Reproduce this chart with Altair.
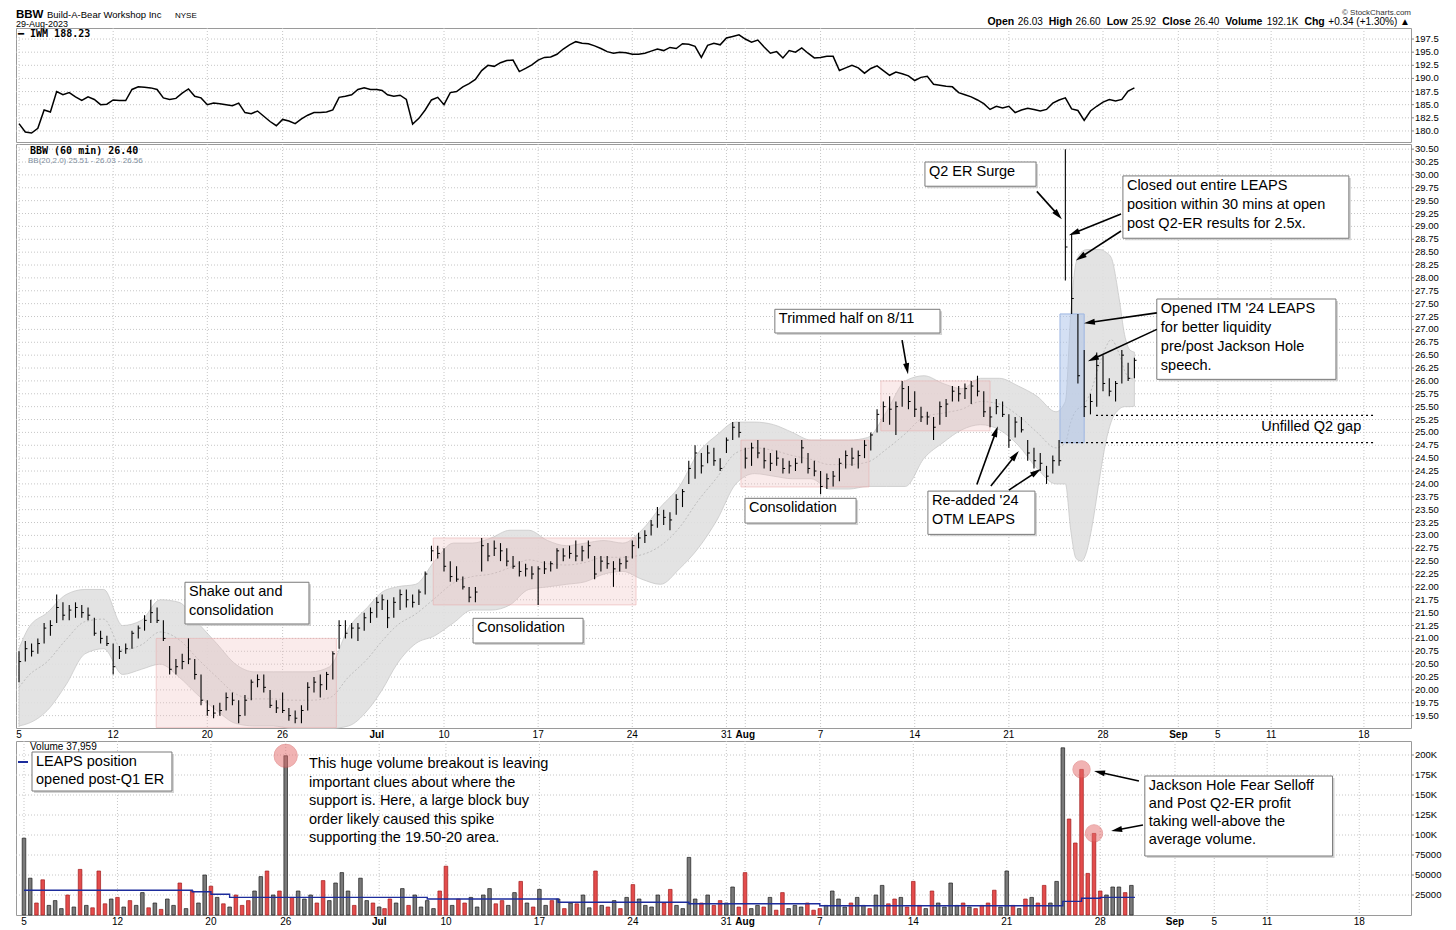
import math
import altair as alt
import pandas as pd

# ---------------------------------------------------------------- data ----
days = ["Jun 5", "Jun 6", "Jun 7", "Jun 8", "Jun 9", "Jun 12", "Jun 13", "Jun 14", "Jun 15", "Jun 16",
        "Jun 20", "Jun 21", "Jun 22", "Jun 23", "Jun 26", "Jun 27", "Jun 28", "Jun 29", "Jun 30", "Jul 3",
        "Jul 5", "Jul 6", "Jul 7", "Jul 10", "Jul 11", "Jul 12", "Jul 13", "Jul 14", "Jul 17", "Jul 18",
        "Jul 19", "Jul 20", "Jul 21", "Jul 24", "Jul 25", "Jul 26", "Jul 27", "Jul 28", "Jul 31", "Aug 1",
        "Aug 2", "Aug 3", "Aug 4", "Aug 7", "Aug 8", "Aug 9", "Aug 10", "Aug 11", "Aug 14", "Aug 15",
        "Aug 16", "Aug 17", "Aug 18", "Aug 21", "Aug 22", "Aug 23", "Aug 24", "Aug 25", "Aug 28", "Aug 29"]
half_days = ["Jul 3"]

bar_low = [
    [20.15, 20.55, 20.65], [20.7, 20.9, 21.05], [21.3, 21.35, 21.35], [21.4, 21.4, 21.35], [21.05, 20.9, 20.85],
    [20.3, 20.6, 20.7], [20.8, 21.0, 21.15], [21.3, 21.3, 20.95], [20.3, 20.3, 20.4], [20.5, 20.2, 19.7],
    [19.5, 19.45, 19.5], [19.6, 19.7, 19.35], [19.5, 19.8, 20.05], [19.95, 19.65, 19.55], [19.55, 19.4, 19.35],
    [19.35, 19.6, 19.95], [19.85, 20.0, 20.2], [20.8, 21.0, 21.0], [20.95, 21.15, 21.3], [21.4, 21.55],
    [21.2, 21.4, 21.55], [21.6, 21.6, 21.65], [21.85, 22.5, 22.55], [22.3, 22.1, 22.1], [21.95, 21.7, 21.7],
    [22.3, 22.5, 22.6], [22.5, 22.4, 22.35], [22.2, 22.2, 22.15], [21.65, 22.25, 22.3], [22.35, 22.5, 22.55],
    [22.5, 22.5, 22.55], [22.15, 22.3, 22.35], [22.0, 22.3, 22.35], [22.55, 22.75, 22.85], [23.0, 23.15, 23.2],
    [23.1, 23.4, 23.55], [24.0, 24.1, 24.2], [24.4, 24.35, 24.25], [24.6, 24.85, 24.9], [24.3, 24.35, 24.5],
    [24.3, 24.25, 24.35], [24.2, 24.2, 24.25], [24.4, 24.2, 24.15], [23.8, 23.9, 23.95], [24.05, 24.3, 24.35],
    [24.3, 24.5, 24.65], [25.0, 25.2, 25.15], [24.95, 25.5, 25.45], [25.3, 25.2, 25.15], [24.85, 25.15, 25.3],
    [25.6, 25.6, 25.65], [25.55, 25.7, 25.3], [25.1, 25.35, 25.3], [24.7, 24.9, 25.0], [24.45, 24.3, 24.25],
    [24.0, 24.2, 24.35], [27.95, 27.3, 25.95], [25.3, 25.35, 25.5], [25.8, 25.7, 25.6], [25.95, 26.0, 26.05]]
bar_high = [
    [20.75, 20.95, 20.9], [21.0, 21.3, 21.35], [21.85, 21.7, 21.65], [21.7, 21.65, 21.6], [21.4, 21.15, 21.05],
    [20.9, 20.85, 20.9], [21.15, 21.25, 21.45], [21.75, 21.6, 21.35], [20.85, 20.6, 20.7], [21.0, 20.6, 20.3],
    [19.8, 19.7, 19.75], [19.95, 19.95, 19.8], [19.9, 20.2, 20.3], [20.3, 20.0, 19.8], [19.95, 19.65, 19.6],
    [19.7, 20.15, 20.25], [20.3, 20.35, 20.75], [21.35, 21.35, 21.3], [21.3, 21.5, 21.6], [21.8, 21.85],
    [21.75, 21.8, 21.95], [21.95, 21.85, 21.95], [22.3, 22.8, 22.8], [22.75, 22.5, 22.4], [22.2, 22.0, 22.0],
    [22.95, 22.85, 22.9], [22.85, 22.75, 22.6], [22.5, 22.45, 22.4], [22.4, 22.5, 22.5], [22.75, 22.75, 22.8],
    [22.9, 22.8, 22.9], [22.6, 22.6, 22.6], [22.5, 22.55, 22.6], [22.9, 23.05, 23.1], [23.3, 23.55, 23.5],
    [23.45, 23.8, 23.9], [24.45, 24.75, 24.6], [24.75, 24.7, 24.5], [24.9, 25.2, 25.2], [24.7, 24.8, 24.85],
    [24.7, 24.6, 24.65], [24.5, 24.45, 24.5], [24.85, 24.6, 24.45], [24.25, 24.2, 24.25], [24.5, 24.65, 24.7],
    [24.65, 24.85, 25.0], [25.45, 25.6, 25.7], [25.6, 26.0, 25.9], [25.8, 25.5, 25.4], [25.3, 25.6, 25.65],
    [25.9, 25.9, 25.95], [26.0, 26.1, 25.8], [25.5, 25.65, 25.6], [25.35, 25.3, 25.3], [24.85, 24.7, 24.6],
    [24.35, 24.55, 24.85], [30.5, 28.85, 27.3], [26.6, 25.75, 26.55], [26.5, 26.05, 26.0], [26.6, 26.35, 26.45]]
bar_close = [
    [20.55, 20.8, 20.75], [20.9, 21.2, 21.25], [21.6, 21.45, 21.55], [21.6, 21.5, 21.45], [21.1, 21.0, 20.9],
    [20.45, 20.75, 20.8], [21.1, 21.2, 21.35], [21.5, 21.35, 21.0], [20.4, 20.45, 20.55], [20.6, 20.3, 19.8],
    [19.6, 19.55, 19.6], [19.85, 19.8, 19.5], [19.8, 20.15, 20.2], [20.05, 19.7, 19.65], [19.6, 19.5, 19.45],
    [19.6, 20.05, 20.15], [20.1, 20.3, 20.7], [21.25, 21.1, 21.2], [21.2, 21.4, 21.5], [21.7, 21.75],
    [21.4, 21.7, 21.85], [21.75, 21.7, 21.9], [22.25, 22.7, 22.65], [22.4, 22.2, 22.15], [22.0, 21.8, 21.9],
    [22.8, 22.6, 22.75], [22.7, 22.5, 22.4], [22.3, 22.35, 22.25], [22.35, 22.35, 22.45], [22.7, 22.6, 22.65],
    [22.6, 22.7, 22.8], [22.25, 22.5, 22.45], [22.35, 22.45, 22.5], [22.8, 22.95, 23.0], [23.2, 23.4, 23.35],
    [23.3, 23.7, 23.85], [24.3, 24.6, 24.35], [24.6, 24.45, 24.3], [24.85, 25.1, 25.0], [24.5, 24.7, 24.6],
    [24.45, 24.4, 24.5], [24.3, 24.35, 24.4], [24.7, 24.3, 24.25], [23.95, 24.1, 24.15], [24.4, 24.55, 24.5],
    [24.55, 24.75, 24.95], [25.35, 25.5, 25.45], [25.5, 25.85, 25.6], [25.45, 25.3, 25.3], [25.1, 25.5, 25.55],
    [25.8, 25.75, 25.85], [25.9, 25.8, 25.4], [25.3, 25.5, 25.35], [24.85, 25.2, 25.05], [24.6, 24.45, 24.4],
    [24.15, 24.45, 24.45], [28.6, 27.6, 26.1], [25.5, 25.6, 26.3], [25.95, 25.8, 25.95], [26.5, 26.05, 26.4]]

iwm_close = [
    [181.4, 179.8, 179.6], [180.5, 184.0, 183.6], [187.5, 186.9, 187.3], [186.5, 185.8, 186.5], [186.0, 185.0, 185.1],
    [185.9, 185.8, 185.8], [187.9, 188.4, 188.3], [188.2, 187.9, 186.3], [186.0, 186.2, 187.2], [188.0, 186.6, 186.3],
    [185.0, 185.3, 185.2], [185.0, 184.8, 185.3], [183.5, 183.3, 183.8], [182.8, 181.8, 181.0], [182.2, 181.9, 181.4],
    [182.3, 183.0, 183.5], [183.5, 183.6, 184.0], [186.4, 186.6, 186.9], [187.9, 188.2, 187.9], [187.9, 187.7],
    [186.9, 186.6, 186.8], [186.0, 181.3, 182.4], [184.0, 185.9, 186.4], [185.0, 187.3, 187.5], [188.4, 189.0, 189.8],
    [191.5, 192.5, 192.3], [193.0, 193.4, 193.5], [191.3, 191.9, 192.6], [193.5, 194.0, 194.1], [194.6, 195.6, 196.4],
    [197.0, 196.7, 196.6], [196.2, 195.7, 195.1], [194.8, 195.0, 194.9], [194.6, 194.6, 194.8], [195.2, 195.6, 195.3],
    [195.9, 195.7, 196.6], [196.5, 196.1, 194.0], [196.3, 196.7, 196.4], [197.7, 198.0, 198.3], [197.5, 196.9, 197.3],
    [196.0, 194.8, 195.1], [193.9, 195.3, 195.0], [195.8, 194.8, 193.9], [194.0, 194.2, 194.2], [191.5, 192.0, 192.5],
    [192.0, 191.0, 191.9], [192.4, 191.5, 190.6], [191.2, 190.9, 190.5], [189.6, 190.2, 190.4], [188.9, 188.7, 188.5],
    [188.4, 187.3, 186.9], [186.5, 185.9, 185.2], [184.1, 184.7, 184.4], [184.7, 183.5, 184.0], [184.3, 184.1, 183.8],
    [184.1, 185.3, 185.9], [186.3, 184.2, 183.9], [182.0, 183.8, 184.7], [185.5, 186.0, 185.7], [186.0, 187.6, 188.2]]

vol_k = [
    [96, 46, 15], [44, 12, 18], [8, 25, 10], [57, 12, 9], [55, 14, 20], [22, 10, 18], [12, 28, 9], [15, 7, 20],
    [12, 40, 8], [30, 15, 50], [36, 22, 14], [10, 25, 12], [18, 30, 48], [55, 25, 30], [199, 22, 30], [20, 25, 15],
    [43, 18, 40], [53, 30, 12], [46, 18, 15], [10, 8], [20, 15, 33], [12, 25, 10], [18, 8, 30], [61, 12, 20],
    [15, 22, 10], [25, 33, 14], [18, 12, 28], [42, 15, 10], [32, 12, 18], [20, 8, 15], [14, 25, 9], [55, 12, 10],
    [18, 8, 22], [38, 20, 12], [10, 25, 15], [32, 12, 8], [72, 20, 15], [25, 12, 18], [15, 35, 10], [53, 8, 12],
    [10, 22, 6], [28, 8, 12], [10, 15, 6], [8, 12, 30], [20, 10, 15], [22, 12, 8], [25, 37, 14], [20, 22, 10],
    [42, 12, 8], [30, 15, 10], [40, 12, 15], [10, 8, 12], [15, 31, 10], [55, 12, 8], [20, 22, 15], [37, 15, 42],
    [209, 120, 90], [182, 52, 102], [30, 25, 35], [35, 28, 37]]
vol_dir = ["kkr", "rkk", "krk", "rkr", "rrk", "rkr", "kkr", "krk", "krk", "rkk",
           "rkr", "krr", "rkk", "rkr", "krk", "kkr", "rkk", "kkr", "kkr", "kr",
           "rkk", "rkk", "kkr", "rkr", "rkk", "kkr", "rkk", "rkr", "kkr", "krk",
           "rkk", "rkr", "krk", "rkk", "kkr", "rkk", "kkr", "krr", "kkr", "rkk",
           "rkr", "rkk", "krr", "rkk", "kkr", "kkr", "kkr", "rkr", "rrk", "rkk",
           "kkr", "krr", "rrk", "krk", "rkr", "rkk", "krr", "rrr", "rkk", "krk"]
vol_ma_k = [31, 31, 31, 31, 31, 31, 31, 31, 31, 29,
            26, 22, 22, 22, 22, 22, 22, 22, 22, 22,
            22, 22, 20, 20, 20, 20, 20, 20, 20, 16,
            16, 16, 16, 16, 16, 16, 14, 14, 14, 14,
            14, 14, 14, 11.5, 11.5, 11.5, 11.5, 11.5, 11.5, 11.5,
            11.5, 11.5, 11.5, 11.5, 11.5, 11.5, 17, 21, 22, 22]

# Bollinger band (20, 2.0): day number, hour slot, upper, lower
bb_day = [0, 0, 1, 2, 3, 4, 5, 6, 7, 8, 9, 10, 11, 12, 13, 14, 15, 16, 17, 18, 19,
          20, 21, 22, 23, 24, 25, 26, 27, 28, 29, 30, 31, 32, 33, 34, 35, 36, 37, 38, 39,
          40, 41, 42, 43, 44, 45, 46, 47, 48, 49, 50, 51, 52, 53, 54, 55,
          56, 56, 56, 56, 57, 57, 57, 58, 58, 58, 59, 59, 59]
bb_slot = [0, 3.5, 3.5, 3.5, 3.5, 3.5, 3.5, 3.5, 3.5, 3.5, 3.5, 3.5, 3.5, 3.5, 3.5, 3.5, 3.5, 3.5, 3.5, 3.5, 2,
           3.5, 3.5, 3.5, 3.5, 3.5, 3.5, 3.5, 3.5, 3.5, 3.5, 3.5, 3.5, 3.5, 3.5, 3.5, 3.5, 3.5, 3.5, 3.5, 3.5,
           3.5, 3.5, 3.5, 3.5, 3.5, 3.5, 3.5, 3.5, 3.5, 3.5, 3.5, 3.5, 3.5, 3.5, 3.5, 3.5,
           0, 2, 4, 6, 1, 3, 6, 1, 3, 6, 1, 3, 4.67]
bb_upper = [20.8, 21.2, 21.5, 21.85, 21.95, 21.95, 21.25, 21.35, 21.75, 21.7, 21.3, 20.9, 20.5, 20.35, 20.35,
            20.35, 20.35, 20.45, 21.2, 21.6, 21.9, 22.0, 22.05, 22.5, 22.85, 22.85, 22.95, 23.1, 23.1, 22.9,
            22.8, 22.85, 22.9, 22.85, 23.1, 23.55, 23.95, 24.6, 24.95, 25.2, 25.2, 25.15, 25.0, 24.85, 24.85,
            24.85, 24.9, 25.4, 26.0, 26.1, 25.95, 25.85, 26.05, 26.05, 25.9, 25.7, 25.4,
            25.6, 27.3, 28.3, 28.5, 28.55, 28.55, 28.55, 28.5, 28.4, 27.6, 26.9, 26.6, 26.56]
bb_lower = [19.3, 19.35, 19.6, 20.1, 20.7, 20.8, 20.3, 20.4, 20.5, 20.25, 19.9, 19.6, 19.35, 19.3, 19.3,
            19.25, 19.25, 19.25, 19.3, 19.6, 20.0, 20.5, 20.9, 21.05, 21.3, 21.55, 21.55, 21.65, 21.95, 22.0,
            22.05, 22.1, 22.25, 22.3, 22.15, 22.05, 22.35, 22.75, 23.3, 24.0, 24.2, 24.15, 24.1, 24.1, 23.9,
            23.9, 23.95, 23.95, 23.95, 24.5, 24.8, 25.05, 25.15, 25.05, 24.75, 24.3, 24.0,
            24.0, 23.1, 22.55, 22.5, 22.7, 23.2, 24.2, 24.8, 25.2, 25.45, 25.5, 25.5, 25.51]

# x axis: trading-hour bar index of each labelled session
tick_vals = [0, 35, 70, 98, 133, 158, 193, 228, 263, 270, 298, 333, 368, 403, 431, 445.7, 465.5, 500]
tick_labels = ["5", "12", "20", "26", "Jul", "10", "17", "24", "31", "Aug", "7", "14", "21", "28",
               "Sep", "5", "11", "18"]
month_ticks = [133, 270, 431]
price_ticks = [19.5, 19.75, 20.0, 20.25, 20.5, 20.75, 21.0, 21.25, 21.5, 21.75, 22.0, 22.25, 22.5, 22.75,
               23.0, 23.25, 23.5, 23.75, 24.0, 24.25, 24.5, 24.75, 25.0, 25.25, 25.5, 25.75, 26.0, 26.25,
               26.5, 26.75, 27.0, 27.25, 27.5, 27.75, 28.0, 28.25, 28.5, 28.75, 29.0, 29.25, 29.5, 29.75,
               30.0, 30.25, 30.5]
iwm_ticks = [180.0, 182.5, 185.0, 187.5, 190.0, 192.5, 195.0, 197.5]
vol_ticks = [25, 50, 75, 100, 125, 150, 175, 200]

# shaded zones: start bar, end bar, top price, bottom price
zone_t1 = [51.0, 154.0, 268.4, 320.4]
zone_t2 = [118.0, 229.4, 316.0, 361.0]
zone_top = [21.0, 22.95, 24.85, 26.0]
zone_bot = [19.27, 21.65, 23.94, 25.03]
gap_zone = [387.0, 396.0, 27.3, 24.8]
gap_t1 = [387.4, 400.4]
gap_t2 = [504.5, 504.5]
gap_price = [24.8, 25.33]

note_text = ["Shake out and\nconsolidation", "Consolidation", "Consolidation", "Trimmed half on 8/11",
             "Q2 ER Surge", "Re-added '24\nOTM LEAPS",
             "Closed out entire LEAPS\nposition within 30 mins at open\npost Q2-ER results for 2.5x.",
             "Opened ITM '24 LEAPS\nfor better liquidity\npre/post Jackson Hole\nspeech."]
note_t1 = [61.7, 168.8, 269.9, 281.0, 336.8, 337.9, 410.4, 423.0]
note_t2 = [107.8, 209.7, 311.2, 342.4, 378.1, 377.7, 494.4, 489.6]
note_top = [22.09, 21.39, 23.72, 27.39, 30.25, 23.86, 29.98, 27.59]
note_bot = [21.28, 20.91, 23.24, 26.93, 29.78, 23.02, 28.77, 26.03]

arrow_t0 = [378.4, 409.7, 409.7, 423.0, 423.0, 328.3, 356.1, 361.3, 368.0]
arrow_p0 = [29.68, 29.24, 28.91, 27.32, 27.00, 26.79, 23.99, 23.96, 23.88]
arrow_t1 = [387.7, 390.3, 392.9, 395.9, 397.4, 330.5, 363.9, 371.7, 379.9]
arrow_p1 = [29.14, 28.83, 28.34, 27.12, 26.38, 26.13, 25.12, 24.64, 24.29]

vnote_text = ["LEAPS position\nopened post-Q1 ER",
              "Jackson Hole Fear Selloff\nand Post Q2-ER profit\ntaking well-above the\naverage volume."]
vnote_t1 = [3.0, 419.7]
vnote_t2 = [55.4, 490.0]
vnote_top = [203.75, 173.75]
vnote_bot = [155.0, 73.75]
vfree_text = ("This huge volume breakout is leaving\nimportant clues about where the\n"
              "support is. Here, a large block buy\norder likely caused this spike\n"
              "supporting the 19.50-20 area.")
vfree_t = 107.8
vfree_top = 197.5
varrow_t0 = [417.5, 419.0]
varrow_v0 = [167.5, 112.5]
varrow_t1 = [400.7, 407.1]
varrow_v1 = [180.0, 105.0]
circle_day = [14, 57, 57]
circle_bar = [0, 0, 2]
circle_size = [540, 300, 300]

# ------------------------------------------------------------- geometry ----
W = 1395
H_I, H_P, H_V = 114, 584, 174
X_DOMAIN = [-1.12, 517.5]
I_DOMAIN = [177.9, 199.6]
P_DOMAIN = [19.26, 30.6]
V_DOMAIN = [0, 217.5]
PX_T = W / (X_DOMAIN[1] - X_DOMAIN[0])
PX_P = H_P / (P_DOMAIN[1] - P_DOMAIN[0])
PX_V = H_V / (V_DOMAIN[1] - V_DOMAIN[0])

FONT = "Liberation Sans"
MONO = "DejaVu Sans Mono"
GRID = "#c6c6c6"

XS = alt.Scale(domain=X_DOMAIN, nice=False, zero=False)
IS = alt.Scale(domain=I_DOMAIN, nice=False, zero=False)
PS = alt.Scale(domain=P_DOMAIN, nice=False, zero=False)
VS = alt.Scale(domain=V_DOMAIN, nice=False, zero=False)

# ---------------------------------------------------------- data frames ----
day_start = []
s = 0
for name in days:
    day_start.append(s)
    s += 4 if name in half_days else 7

rows = []
for d, name in enumerate(days):
    slots = [0, 2] if name in half_days else [0, 7 / 3, 14 / 3]
    for k, sl in enumerate(slots):
        t = day_start[d] + sl
        rows.append(dict(t=t, t2=t + 0.8, lo=bar_low[d][k], hi=bar_high[d][k], cl=bar_close[d][k],
                         iwm=iwm_close[d][k], vol=vol_k[d][k], dn=(vol_dir[d][k] == "r"), day=d, bar=k))
bars = pd.DataFrame(rows)

bb = pd.DataFrame(dict(t=[day_start[d] + sl for d, sl in zip(bb_day, bb_slot)], up=bb_upper, lo=bb_lower))
bb["mid"] = (bb["up"] + bb["lo"]) / 2

ma = pd.DataFrame(dict(t=day_start + [day_start[-1] + 6], v=vol_ma_k + [vol_ma_k[-1]]))

zones = pd.DataFrame(dict(t1=zone_t1, t2=zone_t2, top=zone_top, bot=zone_bot))
gapz = pd.DataFrame([dict(t1=gap_zone[0], t2=gap_zone[1], top=gap_zone[2], bot=gap_zone[3])])
gaps = pd.DataFrame(dict(t1=gap_t1, t2=gap_t2, p=gap_price))
ticks_df = pd.DataFrame(dict(t=tick_vals, label=tick_labels, month=[v in month_ticks for v in tick_vals]))


def notes_frame(texts, t1, t2, top, bot, px_y):
    df = pd.DataFrame(dict(text=texts, t1=t1, t2=t2, top=top, bot=bot))
    df["st1"] = df["t1"] + 2 / PX_T
    df["st2"] = df["t2"] + 2 / PX_T
    df["stop"] = df["top"] - 2 / px_y
    df["sbot"] = df["bot"] - 2 / px_y
    return df


def arrows_frame(t0, y0, t1, y1, px_y, head=11.0):
    out = []
    for a, b, c, e in zip(t0, y0, t1, y1):
        dx = (c - a) * PX_T
        dy = -(e - b) * px_y
        L = math.hypot(dx, dy)
        ux, uy = dx / L, dy / L
        tc = c - ux * (head / 2) / PX_T
        yc = e + uy * (head / 2) / px_y
        ang = math.degrees(math.atan2(ux, -uy)) % 360
        out.append(dict(t0=a, y0=b, tc=tc, yc=yc, ang=ang))
    return pd.DataFrame(out)


notes = notes_frame(note_text, note_t1, note_t2, note_top, note_bot, PX_P)
vnotes = notes_frame(vnote_text, vnote_t1, vnote_t2, vnote_top, vnote_bot, PX_V)
arrows = arrows_frame(arrow_t0, arrow_p0, arrow_t1, arrow_p1, PX_P)
varrows = arrows_frame(varrow_t0, varrow_v0, varrow_t1, varrow_v1, PX_V)
circles = pd.DataFrame([dict(t=bars[(bars.day == d) & (bars.bar == b)].t.iloc[0],
                             v=bars[(bars.day == d) & (bars.bar == b)].vol.iloc[0], size=sz)
                        for d, b, sz in zip(circle_day, circle_bar, circle_size)])

ONE = alt.Data(values=[{}])


# ------------------------------------------------------ guides (drawn) ----
def y_guides(values, labels, yscale):
    df = pd.DataFrame(dict(v=values, label=labels))
    grid = alt.Chart(df).mark_rule(color=GRID, strokeDash=[1, 2], strokeWidth=1).encode(
        x=alt.value(0), x2=alt.value(W), y=alt.Y("v:Q", scale=yscale, axis=None))
    tick = alt.Chart(df).mark_rule(color="#888", strokeWidth=1).encode(
        x=alt.value(W), x2=alt.value(W + 3), y=alt.Y("v:Q", scale=yscale, axis=None))
    text = alt.Chart(df).mark_text(align="left", baseline="middle", fontSize=9.5, font=FONT,
                                   color="#000").encode(
        x=alt.value(W + 4), y=alt.Y("v:Q", scale=yscale, axis=None), text="label:N")
    return grid, [tick, text]


def x_grid(height):
    return alt.Chart(ticks_df).mark_rule(color=GRID, strokeDash=[1, 2], strokeWidth=1).encode(
        x=alt.X("t:Q", scale=XS, axis=None), y=alt.value(0), y2=alt.value(height))


def x_labels(height):
    normal = alt.Chart(ticks_df).transform_filter("!datum.month").mark_text(
        baseline="middle", align="center", fontSize=10, font=FONT, color="#000").encode(
        x=alt.X("t:Q", scale=XS, axis=None), y=alt.value(height + 6.5), text="label:N")
    bold = alt.Chart(ticks_df).transform_filter("datum.month").mark_text(
        baseline="middle", align="center", fontSize=10, fontWeight="bold", font=FONT, color="#000").encode(
        x=alt.X("t:Q", scale=XS, axis=None), y=alt.value(height + 6.5), text="label:N")
    return [normal, bold]


def label(txt, x, y, size, weight="normal", align="left", baseline="alphabetic", color="#000", font=FONT):
    return alt.Chart(ONE).mark_text(text=txt, align=align, baseline=baseline, fontSize=size,
                                    fontWeight=weight, color=color, font=font).encode(
        x=alt.value(x), y=alt.value(y))


def note_layers(df, yscale, lh, top_pad=3):
    shadow = alt.Chart(df).mark_rect(fill="#c8c8c8", opacity=0.8).encode(
        x=alt.X("st1:Q", scale=XS, axis=None), x2="st2:Q",
        y=alt.Y("stop:Q", scale=yscale, axis=None), y2="sbot:Q")
    box = alt.Chart(df).mark_rect(fill="#ffffff", stroke="#7a7a7a", strokeWidth=1).encode(
        x=alt.X("t1:Q", scale=XS, axis=None), x2="t2:Q",
        y=alt.Y("top:Q", scale=yscale, axis=None), y2="bot:Q")
    txt = alt.Chart(df).mark_text(align="left", baseline="top", dx=4, dy=top_pad, fontSize=14.5,
                                  lineHeight=lh, lineBreak="\n", font=FONT, color="#000").encode(
        x=alt.X("t1:Q", scale=XS, axis=None), y=alt.Y("top:Q", scale=yscale, axis=None), text="text:N")
    return [shadow, box, txt]


def arrow_layers(df, yscale):
    line = alt.Chart(df).mark_rule(color="#000", strokeWidth=1.6).encode(
        x=alt.X("t0:Q", scale=XS, axis=None), x2="tc:Q",
        y=alt.Y("y0:Q", scale=yscale, axis=None), y2="yc:Q")
    head = alt.Chart(df).mark_point(shape="M0,-1L0.55,1L-0.55,1Z", filled=True, size=121, color="#000",
                                    opacity=1).encode(
        x=alt.X("tc:Q", scale=XS, axis=None), y=alt.Y("yc:Q", scale=yscale, axis=None),
        angle=alt.Angle("ang:Q", scale=None))
    return [line, head]


# ------------------------------------------------------------- IWM panel ----
iwm_grid, iwm_axis = y_guides(iwm_ticks, ["%.1f" % v for v in iwm_ticks], IS)
iwm_line = alt.Chart(bars).mark_line(color="#000", strokeWidth=1.5).encode(
    x=alt.X("t:Q", scale=XS, axis=None), y=alt.Y("iwm:Q", scale=IS, axis=None))

hdr = [("Open", True), ("26.03", False), ("High", True), ("26.60", False), ("Low", True), ("25.92", False),
       ("Close", True), ("26.40", False), ("Volume", True), ("192.1K", False), ("Chg", True),
       ("+0.34 (+1.30%) \u25b2", False)]
W_BOLD = {"O": .778, "p": .611, "e": .556, "n": .611, "H": .722, "i": .278, "g": .611, "h": .611, "L": .611,
          "o": .611, "w": .778, "C": .722, "l": .278, "s": .556, "V": .667, "u": .611, "m": .889}
HB, HN = 10.5, 10


def text_width(s_, size, bold):
    tot = 0.0
    for ch in s_:
        if bold:
            tot += W_BOLD.get(ch, .6)
        elif ch.isdigit():
            tot += .556
        elif ch in ". ":
            tot += .278
        elif ch == "+":
            tot += .584
        elif ch in "()":
            tot += .333
        elif ch == "%":
            tot += .889
        elif ch == "K":
            tot += .667
        else:
            tot += .8
    return tot * size


widths = [text_width(t_, HB if b else HN, b) for t_, b in hdr]
gaps_px = [3.5 if b else 6 for _, b in hdr][:-1]
xpos = W - (sum(widths) + sum(gaps_px)) - 3
hdr_layers = []
for i, (t_, b) in enumerate(hdr):
    hdr_layers.append(label(t_, xpos, -3, HB if b else HN, "bold" if b else "normal"))
    xpos += widths[i] + (gaps_px[i] if i < len(gaps_px) else 0)

iwm_chart = alt.layer(
    iwm_grid, x_grid(H_I), iwm_line, *iwm_axis,
    label("BBW", 0, -10, 11.5, "bold"),
    label("Build-A-Bear Workshop Inc", 31, -10, 9.5),
    label("NYSE", 159, -10, 8),
    label("29-Aug-2023", 0, -1, 9),
    label("\u00a9 StockCharts.com", W, -19, 8, align="right", baseline="top", color="#333"),
    *hdr_layers,
    label("\u2501 IWM 188.23", 2, 6, 10, weight="bold", baseline="middle", font=MONO),
).properties(width=W, height=H_I)

# ----------------------------------------------------------- price panel ----
p_grid, p_axis = y_guides(price_ticks, ["%.2f" % v for v in price_ticks], PS)
band = alt.Chart(bb).mark_area(color="#e0e0e0", opacity=0.9, interpolate="monotone", stroke="#c4c4c4",
                               strokeWidth=0.8).encode(
    x=alt.X("t:Q", scale=XS, axis=None), y=alt.Y("up:Q", scale=PS, axis=None), y2="lo:Q")
mid = alt.Chart(bb).mark_line(color="#b4b4b4", strokeWidth=0.8, strokeDash=[2, 2], interpolate="monotone").encode(
    x=alt.X("t:Q", scale=XS, axis=None), y=alt.Y("mid:Q", scale=PS, axis=None))
zone = alt.Chart(zones).mark_rect(fill="#efbcbc", fillOpacity=0.3, stroke="#eaa8a8", strokeOpacity=0.5,
                                  strokeWidth=1).encode(
    x=alt.X("t1:Q", scale=XS, axis=None), x2="t2:Q", y=alt.Y("top:Q", scale=PS, axis=None), y2="bot:Q")
bluez = alt.Chart(gapz).mark_rect(fill="#a9c1ea", fillOpacity=0.5, stroke="#9db6e2", strokeWidth=1).encode(
    x=alt.X("t1:Q", scale=XS, axis=None), x2="t2:Q", y=alt.Y("top:Q", scale=PS, axis=None), y2="bot:Q")
hl = alt.Chart(bars).mark_rule(color="#000", strokeWidth=1.1).encode(
    x=alt.X("t:Q", scale=XS, axis=None), y=alt.Y("lo:Q", scale=PS, axis=None), y2="hi:Q")
cl = alt.Chart(bars).mark_rule(color="#000", strokeWidth=1).encode(
    x=alt.X("t:Q", scale=XS, axis=None), x2="t2:Q", y=alt.Y("cl:Q", scale=PS, axis=None))
gapl = alt.Chart(gaps).mark_rule(color="#000", strokeWidth=1.2, strokeDash=[2, 3]).encode(
    x=alt.X("t1:Q", scale=XS, axis=None), x2="t2:Q", y=alt.Y("p:Q", scale=PS, axis=None))
gap_text = alt.Chart(ONE).mark_text(text="Unfilled Q2 gap", align="right", baseline="middle", fontSize=14.5,
                                    font=FONT, color="#000").encode(
    x=alt.value((499 - X_DOMAIN[0]) * PX_T), y=alt.value((P_DOMAIN[1] - 25.1) * PX_P))

price_chart = alt.layer(
    p_grid, x_grid(H_P), band, mid, zone, bluez, hl, cl, gapl, gap_text,
    *note_layers(notes, PS, 19),
    *arrow_layers(arrows, PS),
    label("BBW (60 min) 26.40", 14, 7, 10, weight="bold", baseline="middle", font=MONO),
    label("BB(20,2.0) 25.51 - 26.03 - 26.56", 12, 17, 8, baseline="middle", color="#7f8fa0"),
    *p_axis, *x_labels(H_P),
).properties(width=W, height=H_P)

# ---------------------------------------------------------- volume panel ----
v_grid, v_axis = y_guides(vol_ticks, ["%dK" % v if v >= 100 else "%d" % (v * 1000) for v in vol_ticks], VS)
vbars = alt.Chart(bars).mark_bar(size=3.6, strokeWidth=0.7).encode(
    x=alt.X("t:Q", scale=XS, axis=None), y=alt.Y("vol:Q", scale=VS, axis=None),
    fill=alt.condition("datum.dn", alt.value("#e34c4c"), alt.value("#7a7a7a")),
    stroke=alt.condition("datum.dn", alt.value("#a01c1c"), alt.value("#1e1e1e")))
maline = alt.Chart(ma).mark_line(color="#1c2c9c", strokeWidth=1.4, interpolate="step-after").encode(
    x=alt.X("t:Q", scale=XS, axis=None), y=alt.Y("v:Q", scale=VS, axis=None))
circ = alt.Chart(circles).mark_circle(color="#e46a6a", opacity=0.5, stroke="#d65050", strokeWidth=1).encode(
    x=alt.X("t:Q", scale=XS, axis=None), y=alt.Y("v:Q", scale=VS, axis=None),
    size=alt.Size("size:Q", scale=None, legend=None))
free_text = alt.Chart(ONE).mark_text(text=vfree_text, align="left", baseline="top", fontSize=14.5,
                                     lineHeight=18.5, lineBreak="\n", font=FONT, color="#000").encode(
    x=alt.value((vfree_t - X_DOMAIN[0]) * PX_T), y=alt.value((V_DOMAIN[1] - vfree_top) * PX_V))
ma_sample = alt.Chart(ONE).mark_rule(color="#1c2c9c", strokeWidth=2).encode(
    x=alt.value(2), x2=alt.value(12), y=alt.value(21))

vol_chart = alt.layer(
    v_grid, x_grid(H_V), vbars, maline, circ, free_text,
    *note_layers(vnotes, VS, 18),
    *arrow_layers(varrows, VS),
    label("Volume 37,959", 14, 6, 10, baseline="middle"),
    ma_sample,
    *v_axis, *x_labels(H_V),
).properties(width=W, height=H_V)

chart = alt.vconcat(iwm_chart, price_chart, vol_chart, spacing=0).properties(
    padding={"left": 7, "top": 0, "right": 5, "bottom": 2}
).configure_view(stroke="#9a9a9a", strokeWidth=1)

chart.save("out.html", embed_options={"renderer": "svg", "actions": False})
